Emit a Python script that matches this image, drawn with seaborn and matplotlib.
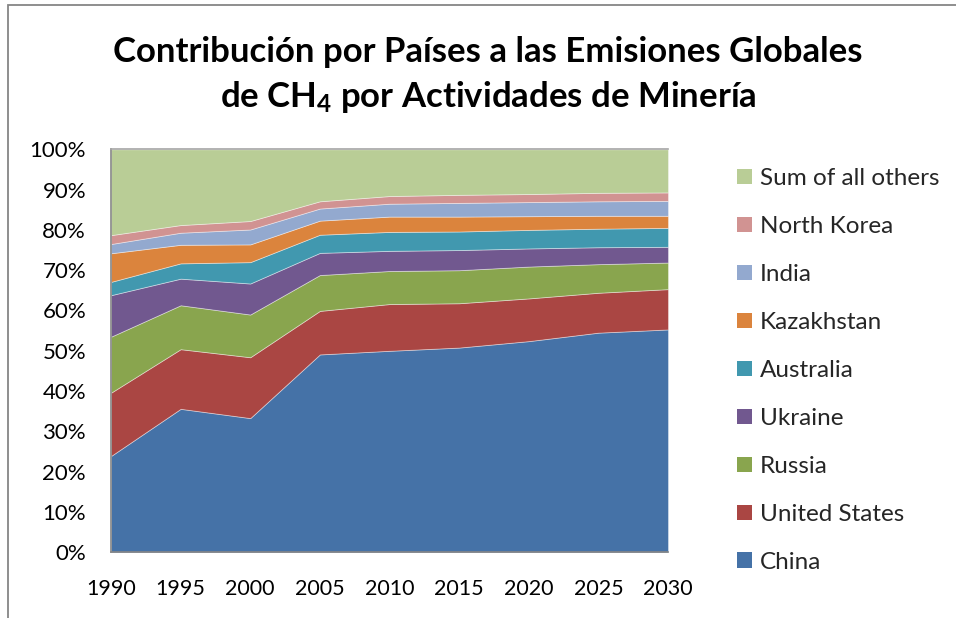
import matplotlib
matplotlib.use("Agg")
import matplotlib.pyplot as plt
import matplotlib.patches as mpatches
import seaborn as sns
import numpy as np

years = [1990, 1995, 2000, 2005, 2010, 2015, 2020, 2025, 2030]
china = [23.9, 35.6, 33.3, 49.1, 50.0, 50.8, 52.4, 54.5, 55.3]
united_states = [15.7, 14.8, 15.1, 10.8, 11.6, 11.0, 10.6, 9.9, 10.0]
russia = [13.9, 10.9, 10.6, 8.9, 8.2, 8.2, 7.9, 7.1, 6.6]
ukraine = [10.3, 6.6, 7.7, 5.5, 5.0, 5.0, 4.5, 4.2, 3.9]
australia = [3.3, 3.8, 5.3, 4.5, 4.7, 4.6, 4.6, 4.6, 4.7]
kazakhstan = [7.1, 4.6, 4.4, 3.5, 3.8, 3.7, 3.4, 3.2, 3.0]
india = [2.3, 3.0, 3.7, 3.0, 3.2, 3.4, 3.5, 3.6, 3.7]
north_korea = [2.2, 1.9, 2.1, 1.8, 1.9, 2.0, 2.0, 2.1, 2.1]
others = [21.3, 18.8, 17.8, 12.9, 11.6, 11.3, 11.1, 10.8, 10.7]

series_names = ["China", "United States", "Russia", "Ukraine", "Australia",
                "Kazakhstan", "India", "North Korea", "Sum of all others"]
series_values = [china, united_states, russia, ukraine, australia,
                 kazakhstan, india, north_korea, others]
colors = ["#4572A7", "#AA4643", "#89A54E", "#71588F", "#4198AF",
          "#DB843D", "#93A9CF", "#D19392", "#B9CD96"]
y_ticks = [0, 10, 20, 30, 40, 50, 60, 70, 80, 90, 100]
y_tick_labels = [f"{v}%" for v in y_ticks]
x_ticks = years
title_line1 = "Contribución por Países a las Emisiones Globales"
title_line2 = r"de CH$_\mathbf{4}$ por Actividades de Minería"

sns.set_theme(style="white")
plt.rcParams['font.family'] = ['Lato', 'DejaVu Sans']
plt.rcParams['mathtext.fontset'] = 'custom'
plt.rcParams['mathtext.rm'] = 'Lato:bold'
plt.rcParams['mathtext.bf'] = 'Lato:bold'
plt.rcParams['mathtext.it'] = 'Lato:bold'

W, H = 956, 618
fig = plt.figure(figsize=(W / 100, H / 100), dpi=100)
fig.patch.set_facecolor("white")

left, right, bottom, top = 111, 668, 552.3, 149.3
ax = fig.add_axes([left / W, 1 - bottom / H, (right - left) / W, (bottom - top) / H])

polys = ax.stackplot(years, *series_values, colors=colors, labels=series_names,
                     edgecolor=(1, 1, 1, 0.45), linewidth=0.6)

ax.set_xlim(1990, 2030)
ax.set_ylim(0, 100)
ax.set_xticks(x_ticks)
ax.set_xticklabels([str(y) for y in x_ticks])
ax.set_yticks(y_ticks)
ax.set_yticklabels(y_tick_labels)
ax.tick_params(axis="both", which="major", direction="out", length=7, width=1.2,
               color="#868686", labelsize=15, labelcolor="black")
ax.tick_params(axis="y", pad=11, labelsize=16)
ax.tick_params(axis="x", pad=12, labelsize=15.5)
for side in ["left", "bottom", "top"]:
    ax.spines[side].set_color("#868686")
    ax.spines[side].set_linewidth(1.2)
ax.spines["top"].set_color("#a6a6a6")
ax.spines["right"].set_visible(False)
ax.grid(False)
ax.set_facecolor("white")

fig.text(488 / W, 1 - 52 / H, title_line1, ha="center", va="center",
         fontsize=25, fontweight="bold", color="black")
fig.text(488 / W, 1 - 97 / H, title_line2, ha="center", va="center",
         fontsize=25, fontweight="bold", color="black")

handles = [mpatches.Patch(facecolor=c, edgecolor="none") for c in colors]
leg = fig.legend(handles[::-1], series_names[::-1], loc="center left",
                 bbox_to_anchor=(737 / W, 1 - 370.5 / H), frameon=False,
                 fontsize=17.5, handlelength=0.62, handleheight=0.62,
                 handletextpad=0.32, labelspacing=1.11, borderpad=0,
                 borderaxespad=0)

frame = mpatches.Rectangle((8 / W, -0.05), 1.2, 1.05 - 5 / H, transform=fig.transFigure,
                           fill=False, edgecolor="#868686", linewidth=1.3, clip_on=False)
fig.patches.append(frame)

fig.savefig("out.png", dpi=100)
